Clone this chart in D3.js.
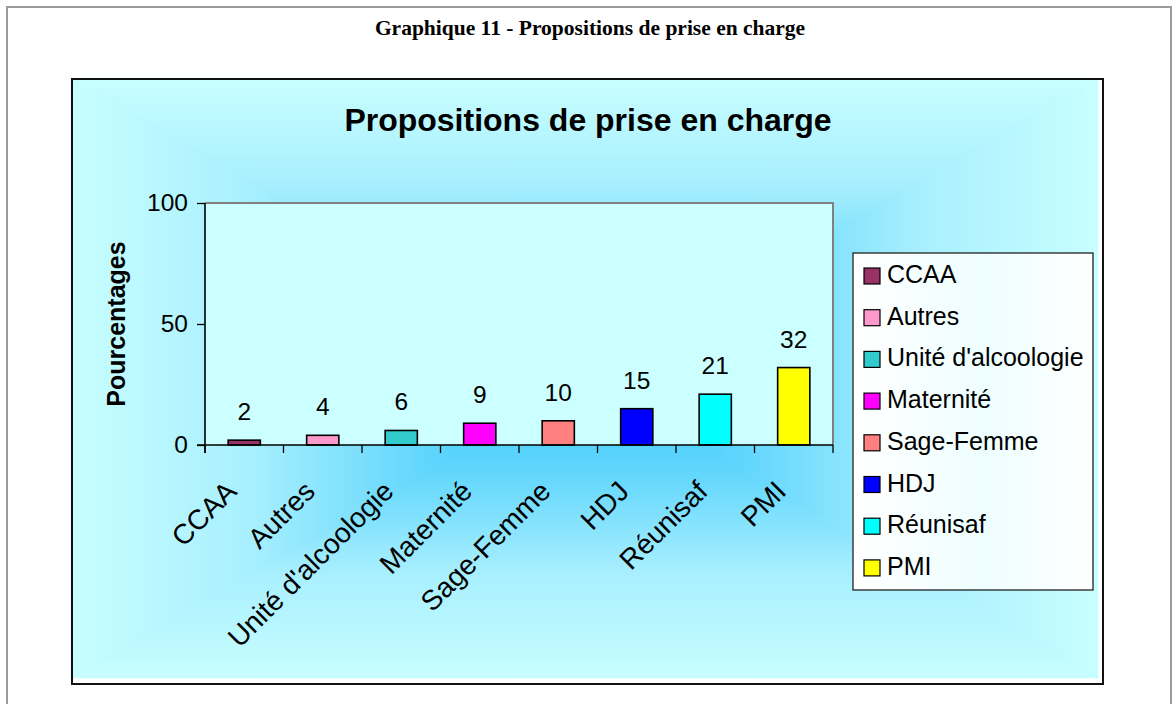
<!DOCTYPE html>
<html>
<head>
<meta charset="utf-8">
<script src="https://cdn.jsdelivr.net/npm/d3@7"></script>
<style>
  html, body { margin: 0; padding: 0; background: #fff; }
  svg { display: block; }
</style>
</head>
<body>
<div id="chart"></div>
<script>
// --- data ---
const categories = ["CCAA", "Autres", "Unité d'alcoologie", "Maternité", "Sage-Femme", "HDJ", "Réunisaf", "PMI"];
const values = [2, 4, 6, 9, 10, 15, 21, 32];
const yTicks = [0, 50, 100];
const barColors = ["#993366", "#FF99CC", "#33CCCC", "#FF00FF", "#FF8080", "#0000FF", "#00FFFF", "#FFFF00"];

const pageTitle = "Graphique 11 - Propositions de prise en charge";
const chartTitle = "Propositions de prise en charge";
const yLabel = "Pourcentages";

// --- layout ---
const width = 1173, height = 704;
const sans = "'Liberation Sans', Arial, sans-serif";
const serif = "'Liberation Serif', 'Times New Roman', serif";

const area = { x0: 71, y0: 78, x1: 1098, y1: 678 };      // gradient fill of the chart area
const plot = { left: 205, right: 833, top: 203, bottom: 445 };
const legendBox = { x: 853, y: 253, w: 240, h: 337 };

const svg = d3.select("#chart").append("svg")
    .attr("width", width)
    .attr("height", height)
    .attr("viewBox", [0, 0, width, height]);

const defs = svg.append("defs");

// outer page frame (open at the bottom)
svg.append("path")
    .attr("d", `M7,${height + 5} V7 H1171 V${height + 5}`)
    .attr("fill", "none")
    .attr("stroke", "#9a9a9a")
    .attr("stroke-width", 2);

svg.append("text")
    .attr("x", 590)
    .attr("y", 35)
    .attr("text-anchor", "middle")
    .attr("font-family", serif)
    .attr("font-weight", "bold")
    .attr("font-size", 21.5)
    .text(pageTitle);

// --- chart area with a "from center" rectangular gradient ---
const cx = (area.x0 + area.x1) / 2, cy = (area.y0 + area.y1) / 2;
const stops = [
    [0, "#36c9fb"],
    [0.3, "#5fd5fc"],
    [0.65, "#a8effe"],
    [1, "#c8feff"]
];
const sides = [
    { id: "gTop", pts: [[cx, cy], [area.x0, area.y0], [area.x1, area.y0]], to: [cx, area.y0] },
    { id: "gBottom", pts: [[cx, cy], [area.x0, area.y1], [area.x1, area.y1]], to: [cx, area.y1] },
    { id: "gLeft", pts: [[cx, cy], [area.x0, area.y0], [area.x0, area.y1]], to: [area.x0, cy] },
    { id: "gRight", pts: [[cx, cy], [area.x1, area.y0], [area.x1, area.y1]], to: [area.x1, cy] }
];
sides.forEach(s => {
    const g = defs.append("linearGradient")
        .attr("id", s.id)
        .attr("gradientUnits", "userSpaceOnUse")
        .attr("x1", cx).attr("y1", cy)
        .attr("x2", s.to[0]).attr("y2", s.to[1]);
    stops.forEach(st => g.append("stop").attr("offset", st[0]).attr("stop-color", st[1]));
});

svg.append("rect")
    .attr("x", area.x0).attr("y", area.y0)
    .attr("width", area.x1 - area.x0).attr("height", area.y1 - area.y0)
    .attr("fill", "#8fe6fd");

svg.append("g").selectAll("polygon")
    .data(sides)
    .join("polygon")
    .attr("points", d => d.pts.map(p => p.join(",")).join(" "))
    .attr("fill", d => `url(#${d.id})`)
    .attr("stroke", d => `url(#${d.id})`)
    .attr("stroke-width", 0.6);

svg.append("rect")
    .attr("x", 72).attr("y", 79)
    .attr("width", 1103 - 72).attr("height", 684 - 79)
    .attr("fill", "none")
    .attr("stroke", "#111")
    .attr("stroke-width", 2);

svg.append("text")
    .attr("x", 588)
    .attr("y", 131)
    .attr("text-anchor", "middle")
    .attr("font-family", sans)
    .attr("font-weight", "bold")
    .attr("font-size", 32)
    .text(chartTitle);

// --- scales ---
const x = d3.scaleBand()
    .domain(categories)
    .range([plot.left, plot.right])
    .padding(0);

const y = d3.scaleLinear()
    .domain([0, 100])
    .range([plot.bottom, plot.top]);

const color = d3.scaleOrdinal()
    .domain(categories)
    .range(barColors);

const barW = x.bandwidth() * 0.41;

// plot area
svg.append("rect")
    .attr("x", plot.left).attr("y", plot.top)
    .attr("width", plot.right - plot.left).attr("height", plot.bottom - plot.top)
    .attr("fill", "#CCFFFF");

svg.append("path")
    .attr("d", `M${plot.left},${plot.top} H${plot.right} V${plot.bottom}`)
    .attr("fill", "none")
    .attr("stroke", "#808080")
    .attr("stroke-width", 2);

// --- bars ---
const data = categories.map((c, i) => ({ name: c, value: values[i] }));

svg.append("g")
    .selectAll("rect")
    .data(data)
    .join("rect")
    .attr("x", d => x(d.name) + (x.bandwidth() - barW) / 2)
    .attr("y", d => y(d.value))
    .attr("width", barW)
    .attr("height", d => y(0) - y(d.value))
    .attr("fill", d => color(d.name))
    .attr("stroke", "#000")
    .attr("stroke-width", 1.6);

svg.append("g")
    .selectAll("text")
    .data(data)
    .join("text")
    .attr("x", d => x(d.name) + x.bandwidth() / 2)
    .attr("y", d => y(d.value) - 20)
    .attr("text-anchor", "middle")
    .attr("font-family", sans)
    .attr("font-size", 24.5)
    .text(d => d.value);

// --- y axis ---
const yAxis = svg.append("g")
    .attr("transform", `translate(${plot.left},0)`)
    .call(d3.axisLeft(y).tickValues(yTicks).tickSize(8).tickSizeOuter(0).tickPadding(9));
yAxis.select(".domain").remove();
yAxis.selectAll(".tick line").attr("stroke", "#000").attr("stroke-width", 1.3);
yAxis.selectAll(".tick text")
    .attr("font-family", sans)
    .attr("font-size", 24.5)
    .attr("fill", "#000");

svg.append("line")
    .attr("x1", plot.left).attr("x2", plot.left)
    .attr("y1", plot.top).attr("y2", plot.bottom + 8)
    .attr("stroke", "#000")
    .attr("stroke-width", 1.6);

svg.append("text")
    .attr("transform", `translate(125,${(plot.top + plot.bottom) / 2}) rotate(-90)`)
    .attr("text-anchor", "middle")
    .attr("font-family", sans)
    .attr("font-weight", "bold")
    .attr("font-size", 25)
    .text(yLabel);

// --- x axis: ticks on the category boundaries ---
const bounds = categories.map(c => x(c)).concat([x(categories[categories.length - 1]) + x.bandwidth()]);

svg.append("line")
    .attr("x1", plot.left - 8).attr("x2", plot.right)
    .attr("y1", plot.bottom).attr("y2", plot.bottom)
    .attr("stroke", "#000")
    .attr("stroke-width", 1.6);

svg.append("g")
    .selectAll("line")
    .data(bounds)
    .join("line")
    .attr("x1", d => d).attr("x2", d => d)
    .attr("y1", plot.bottom).attr("y2", plot.bottom + 8)
    .attr("stroke", "#000")
    .attr("stroke-width", 1.3);

svg.append("g")
    .selectAll("text")
    .data(categories)
    .join("text")
    .attr("transform", d => `translate(${x(d) + x.bandwidth() / 2 - 6},${plot.bottom + 48}) rotate(-45)`)
    .attr("text-anchor", "end")
    .attr("font-family", sans)
    .attr("font-size", 28)
    .text(d => d);

// --- legend ---
const lg = defs.append("linearGradient").attr("id", "legendFill");
lg.append("stop").attr("offset", 0).attr("stop-color", "#ffffff");
lg.append("stop").attr("offset", 0.55).attr("stop-color", "#eefeff");
lg.append("stop").attr("offset", 1).attr("stop-color", "#ffffff");

svg.append("rect")
    .attr("x", legendBox.x).attr("y", legendBox.y)
    .attr("width", legendBox.w).attr("height", legendBox.h)
    .attr("fill", "url(#legendFill)")
    .attr("stroke", "#222")
    .attr("stroke-width", 1.3);

const legendItem = svg.append("g")
    .selectAll("g")
    .data(categories)
    .join("g")
    .attr("transform", (d, i) => `translate(${legendBox.x + 11},${283 + i * 41.7})`);

legendItem.append("rect")
    .attr("x", 0).attr("y", -15)
    .attr("width", 16).attr("height", 16)
    .attr("fill", d => color(d))
    .attr("stroke", "#000")
    .attr("stroke-width", 1.2);

legendItem.append("text")
    .attr("x", 23)
    .attr("y", 0)
    .attr("font-family", sans)
    .attr("font-size", 25)
    .text(d => d);
</script>
</body>
</html>
